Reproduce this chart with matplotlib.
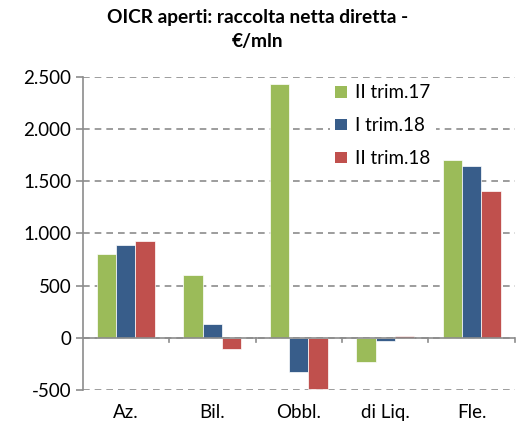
import numpy as np
import matplotlib.pyplot as plt
from matplotlib.patches import Patch

categories = ['Az.', 'Bil.', 'Obbl.', 'di Liq.', 'Fle.']
series = ['II trim.17', 'I trim.18', 'II trim.18']
q2_17 = [800, 605, 2435, -230, 1700]
q1_18 = [885, 135, -330, -35, 1650]
q2_18 = [925, -110, -490, 20, 1410]
colors = ['#9BBB59', '#385D8A', '#C0504D']

plt.rcParams['font.family'] = ['Lato', 'DejaVu Sans']

fig = plt.figure(figsize=(5.16, 4.28), dpi=100)
ax = fig.add_axes([0.160, 0.089, 0.838, 0.731])

x = np.arange(len(categories))
w = 0.224
for i, vals in enumerate([q2_17, q1_18, q2_18]):
    ax.bar(x + (i - 1) * w, vals, width=w, color=colors[i],
           edgecolor='white', linewidth=0.5, zorder=3)

ax.set_xlim(-0.5, len(categories) - 0.5)
ax.set_ylim(-500, 2500)
ax.set_yticks(range(-500, 2501, 500))
ax.set_yticklabels(['-500', '0', '500', '1.000', '1.500', '2.000', '2.500'])
ax.yaxis.grid(True, color='#8c8c8c', linestyle=(0, (4, 3)), linewidth=1.2)
ax.set_axisbelow(True)

for s in ['top', 'right', 'bottom']:
    ax.spines[s].set_visible(False)
ax.spines['left'].set_color('#8c8c8c')
ax.spines['left'].set_linewidth(1.2)
ax.axhline(0, color='#8c8c8c', linewidth=1.2, zorder=4)

# category boundary ticks under the zero line
for b in np.arange(0.5, len(categories), 1.0):
    ax.plot([b, b], [0, -45], color='#8c8c8c', linewidth=1.2, zorder=4,
            clip_on=False)

ax.tick_params(axis='y', length=5, width=1.2, color='#8c8c8c',
               labelsize=13.5, pad=3)
ax.set_xticks(x)
ax.set_xticklabels(categories, fontsize=13.5)
ax.tick_params(axis='x', length=0, pad=10)

fig.suptitle('OICR aperti: raccolta netta diretta -\n€/mln', x=0.5, y=0.978,
             fontsize=13.8, fontweight='bold', linespacing=1.5)

handles = [Patch(facecolor=c) for c in colors]
leg = ax.legend(handles, series, loc='upper left', bbox_to_anchor=(0.55, 1.025),
                frameon=True, fontsize=13.5, handlelength=0.6, handleheight=0.6,
                handletextpad=0.45, labelspacing=0.85, borderpad=0.3)
leg.get_frame().set_facecolor('white')
leg.get_frame().set_edgecolor('none')
leg.get_frame().set_alpha(1)
leg.set_zorder(5)

fig.savefig('out.png', dpi=100)
